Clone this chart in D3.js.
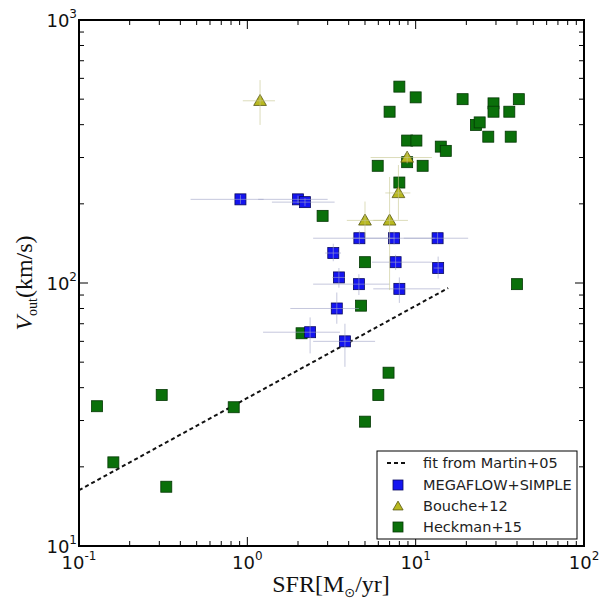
<!DOCTYPE html>
<html><head><meta charset="utf-8">
<script src="https://cdn.jsdelivr.net/npm/d3@7"></script>
<style>body{margin:0;background:#fff}svg{display:block}</style>
</head><body>
<svg id="c" width="602" height="602"></svg>
<script>
// ---- data ----
const megaSFR = [0.91, 2.0, 2.2, 4.63, 7.44, 13.5, 3.24, 7.6, 13.6, 3.5, 4.6, 8.0, 3.4, 2.36, 3.8];
const megaV   = [208, 208, 203, 148, 148, 148, 130, 120, 114, 105, 99, 95, 80, 65, 60];
const megaSFRlo = [0.46, 1.16, 1.4, 2.46, 4.2, 8.5, 2.9, 5.5, 12.8, 3.2, 2.46, 5.6, 1.8, 1.24, 2.46];
const megaSFRhi = [1.25, 3.0, 3.3, 7.5, 13, 20.5, 3.6, 12.5, 14.5, 3.8, 7.0, 14, 4.6, 3.55, 5.74];
const megaVlo = [200, 201, 196, 140, 140, 141, 121, 112, 104, 96, 90, 84, 70, 54, 48];
const megaVhi = [216, 215, 210, 158, 157, 156, 141, 128, 126, 114, 108, 105, 92, 74, 70];

const boucheSFR = [1.19, 5.0, 7.0, 7.9, 8.9];
const boucheV   = [493, 173, 173, 220, 300];
const boucheSFRlo = [0.94, 3.9, 5.6, 6.6, 5.4];
const boucheSFRhi = [1.46, 6.5, 9.0, 9.3, 12.5];
const boucheVlo = [399, 150, 94, 174, 285];
const boucheVhi = [591, 204, 253, 281, 315];

const heckSFR = [0.128, 0.31, 0.83, 0.16, 0.33, 6.9, 6.0, 5.0, 4.74, 2.1,
                 8.0, 10, 7.0, 19, 29, 29, 41, 36, 22.8, 24, 27, 36.7,
                 8.9, 10.1, 14.1, 15.1, 5.95, 8.9, 11, 8.0, 2.8, 5.0, 40];
const heckV   = [34, 37.5, 33.7, 20.8, 16.8, 45.6, 37.5, 29.7, 82, 64.4,
                 558, 508, 448, 500, 482, 448, 500, 448, 399, 408, 360, 360,
                 348, 348, 330, 318, 279, 288, 279, 241, 180, 120, 99];

const fitSFR = [0.1, 15.6];
const fitV   = [16.3, 95.7];

const xTickLabels = [["10","-1"],["10","0"],["10","1"],["10","2"]];
const yTickLabels = [["10","1"],["10","2"],["10","3"]];
const legendLabels = ["fit from Martin+05", "MEGAFLOW+SIMPLE", "Bouche+12", "Heckman+15"];

// ---- layout ----
const L = 79, R = 584, T = 20, B = 546;
const svg = d3.select("#c");
const x = d3.scaleLog().domain([0.1, 100]).range([L, R]);
const y = d3.scaleLog().domain([10, 1000]).range([B, T]);

const g = svg.append("g");

// fit line
g.append("line")
  .attr("x1", x(fitSFR[0])).attr("y1", y(fitV[0]))
  .attr("x2", x(fitSFR[1])).attr("y2", y(fitV[1]))
  .attr("stroke", "#111").attr("stroke-width", 2).attr("stroke-dasharray", "4,3");

const S = 11;
// Heckman squares
g.selectAll("rect.h").data(heckSFR).enter().append("rect")
  .attr("x", (d,i) => x(d) - S/2).attr("y", (d,i) => y(heckV[i]) - S/2)
  .attr("width", S).attr("height", S)
  .attr("fill", "#0a700a").attr("stroke", "#053805").attr("stroke-width", 0.8);

// MEGAFLOW squares
g.selectAll("rect.m").data(megaSFR).enter().append("rect")
  .attr("x", (d,i) => x(d) - S/2).attr("y", (d,i) => y(megaV[i]) - S/2)
  .attr("width", S).attr("height", S)
  .attr("fill", "#1414f0").attr("stroke", "#0a0a60").attr("stroke-width", 0.8);

// Bouche triangles
const tri = d3.symbol().type(d3.symbolTriangle).size(70);
g.selectAll("path.b").data(boucheSFR).enter().append("path")
  .attr("d", tri)
  .attr("transform", (d,i) => `translate(${x(d)},${y(boucheV[i]) + 1})`)
  .attr("fill", "#b8b820").attr("stroke", "#555510").attr("stroke-width", 0.8);

// error bars (drawn on top, light)
function errbars(sx, sv, xlo, xhi, vlo, vhi, col) {
  sx.forEach((d, i) => {
    g.append("line").attr("x1", x(xlo[i])).attr("x2", x(xhi[i]))
      .attr("y1", y(sv[i])).attr("y2", y(sv[i]))
      .attr("stroke", col).attr("stroke-width", 1).attr("opacity", 0.6);
    g.append("line").attr("x1", x(d)).attr("x2", x(d))
      .attr("y1", y(vlo[i])).attr("y2", y(vhi[i]))
      .attr("stroke", col).attr("stroke-width", 1).attr("opacity", 0.6);
  });
}
errbars(megaSFR, megaV, megaSFRlo, megaSFRhi, megaVlo, megaVhi, "#a0a4c8");
errbars(boucheSFR, boucheV, boucheSFRlo, boucheSFRhi, boucheVlo, boucheVhi, "#c8c890");

// frame
svg.append("rect").attr("x", L).attr("y", T).attr("width", R - L).attr("height", B - T)
  .attr("fill", "none").attr("stroke", "#000").attr("stroke-width", 2);

// ticks
const tk = svg.append("g").attr("stroke", "#000").attr("stroke-width", 1);
x.ticks().forEach(t => {
  const major = Math.abs(Math.log10(t) - Math.round(Math.log10(t))) < 1e-9;
  const len = major ? 9 : 5;
  const px = x(t);
  tk.append("line").attr("x1", px).attr("x2", px).attr("y1", B).attr("y2", B - len);
  tk.append("line").attr("x1", px).attr("x2", px).attr("y1", T).attr("y2", T + len);
});
y.ticks().forEach(t => {
  const major = Math.abs(Math.log10(t) - Math.round(Math.log10(t))) < 1e-9;
  const len = major ? 9 : 5;
  const py = y(t);
  tk.append("line").attr("y1", py).attr("y2", py).attr("x1", L).attr("x2", L + len);
  tk.append("line").attr("y1", py).attr("y2", py).attr("x1", R).attr("x2", R - len);
});

// tick labels
const font = "DejaVu Sans, sans-serif";
const xMaj = [0.1, 1, 10, 100];
xMaj.forEach((v, i) => {
  const t = svg.append("text").attr("x", x(v)).attr("y", 569)
    .attr("text-anchor", "middle").attr("font-family", font).attr("font-size", 18).attr("fill", "#111");
  t.append("tspan").text(xTickLabels[i][0]);
  t.append("tspan").attr("dy", -9).attr("font-size", 12).text(xTickLabels[i][1]);
});
const yMaj = [10, 100, 1000];
yMaj.forEach((v, i) => {
  const t = svg.append("text").attr("x", 77).attr("y", y(v) + 7)
    .attr("text-anchor", "end").attr("font-family", font).attr("font-size", 18).attr("fill", "#111");
  t.append("tspan").text(yTickLabels[i][0]);
  t.append("tspan").attr("dy", -9).attr("font-size", 12).text(yTickLabels[i][1]);
});

// axis labels
const serif = "Liberation Serif, DejaVu Serif, serif";
const xl = svg.append("text").attr("x", 331).attr("y", 592).attr("text-anchor", "middle")
  .attr("font-family", serif).attr("font-size", 24).attr("fill", "#111");
xl.append("tspan").text("SFR[M");
xl.append("tspan").attr("dy", 5).attr("font-size", 13).attr("font-family", "DejaVu Sans").text("⊙");
xl.append("tspan").attr("dy", -5).text("/yr]");

const yl = svg.append("text").attr("transform", "translate(32,283) rotate(-90)")
  .attr("text-anchor", "middle").attr("font-family", serif).attr("font-size", 24).attr("fill", "#111");
yl.append("tspan").attr("font-style", "italic").text("V");
yl.append("tspan").attr("dy", 5).attr("font-size", 14).text("out");
yl.append("tspan").attr("dy", -5).text("(km/s)");

// legend
const lg = svg.append("g");
lg.append("rect").attr("x", 377).attr("y", 451).attr("width", 200).attr("height", 88)
  .attr("fill", "#fff").attr("stroke", "#000").attr("stroke-width", 1);
const rowsY = [463, 485, 506, 527];
lg.append("line").attr("x1", 387).attr("x2", 408).attr("y1", rowsY[0]).attr("y2", rowsY[0])
  .attr("stroke", "#111").attr("stroke-width", 2).attr("stroke-dasharray", "4,3");
lg.append("rect").attr("x", 398 - 5).attr("y", rowsY[1] - 5).attr("width", 10).attr("height", 10)
  .attr("fill", "#1414f0").attr("stroke", "#0a0a60").attr("stroke-width", 0.8);
lg.append("path").attr("d", d3.symbol().type(d3.symbolTriangle).size(45))
  .attr("transform", `translate(398,${rowsY[2] + 1})`)
  .attr("fill", "#b8b820").attr("stroke", "#555510").attr("stroke-width", 0.8);
lg.append("rect").attr("x", 398 - 5).attr("y", rowsY[3] - 5).attr("width", 10).attr("height", 10)
  .attr("fill", "#0a700a").attr("stroke", "#053805").attr("stroke-width", 0.8);
legendLabels.forEach((s, i) => {
  lg.append("text").attr("x", 423).attr("y", rowsY[i] + 5)
    .attr("font-family", font).attr("font-size", 14.5).attr("fill", "#222").text(s);
});
</script>
</body></html>
